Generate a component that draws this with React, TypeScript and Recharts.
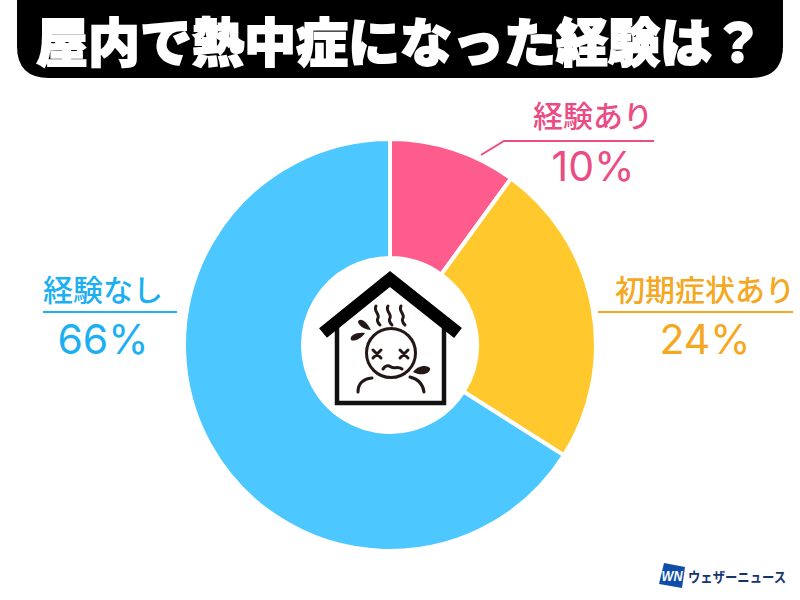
import React from "react";
import { PieChart, Pie, Cell } from "recharts";

const categories = ["経験あり", "初期症状あり", "経験なし"];
const values = [10, 24, 66];
const sliceColors = ["#ff5c8e", "#ffc92e", "#4cc7ff"];
const textColors = ["#ea4c83", "#f5a81f", "#1cb0f2"];
const title = "屋内で熱中症になった経験は？";
const brand = "ウェザーニュース";

const pieData = categories.map((name, i) => ({ name, value: values[i] }));
const jp = "'Noto Sans CJK JP', sans-serif";
const latin = "Inter, 'Noto Sans CJK JP', sans-serif";

const labelLayout = [
  { x: 593, nameY: 127, pctY: 181, line: "M481 155 L504 141 L654 141" },
  { x: 705, nameY: 301, pctY: 354, line: "M598 312 L793 312" },
  { x: 103, nameY: 301, pctY: 354, line: "M43 312 L177 312" },
];

function Icon() {
  const thin = { fill: "none", stroke: "#231815", strokeWidth: 3, strokeLinecap: "round" as const };
  return (
    <g>
      <path d="M337 322 L337 403 L444 403 L444 322" fill="#fff" stroke="#111" strokeWidth={4.5} />
      <path d="M323 333 L390 279 L458 333" fill="none" stroke="#000" strokeWidth={12.5} />
      <circle cx={391} cy={353} r={24.5} fill="none" stroke="#231815" strokeWidth={3} />
      <path d="M376 306 C373 311 380 314 378 318 C376 321 378 323 380 325" {...thin} />
      <path d="M388 306 C385 311 392 314 390 318 C388 321 390 323 392 325" {...thin} />
      <path d="M401 306 C398 311 405 314 403 318 C401 321 403 323 405 325" {...thin} />
      <path d="M371 330 C367 330 359 327 358 322 C359 318 365 319 371 330 Z" fill="#231815" />
      <path d="M365 333 C361 339 354 342 351 340 C349 336 356 332 365 333 Z" fill="#231815" />
      <path d="M413 372 C417 366 426 364 430 368 C431 373 422 377 413 372 Z" fill="#231815" />
      <path d="M373 350 L381 358 M381 350 L373 358 M400 350 L408 358 M408 350 L400 358" {...thin} />
      <path d="M383 369 C386 365 388 365 391 367 C394 369 398 366 402 369" {...thin} />
      <path d="M358 392 C358 384 363 379 372 378" {...thin} />
      <path d="M424 392 C423 384 418 379 410 377" {...thin} />
    </g>
  );
}

export default function App() {
  return (
    <div style={{ position: "absolute", left: 0, top: 0, width: 800, height: 600 }}>
      <PieChart width={800} height={600} margin={{ top: 0, right: 0, bottom: 0, left: 0 }}>
        <rect x={0} y={0} width={800} height={600} fill="#fff" />
        <path d="M17 0 L783 0 L783 46 Q783 78 751 78 L49 78 Q17 78 17 46 Z" fill="#000" />
        <text x={36} y={62} fontFamily={jp} fontWeight={900} fontSize={52}
          fill="#fff" stroke="#fff" strokeWidth={1.8} textLength={728} lengthAdjust="spacingAndGlyphs">
          {title}
        </text>
        <Pie data={pieData} dataKey="value" nameKey="name" cx={390} cy={345} outerRadius={206} innerRadius={87}
          startAngle={90} endAngle={-270} stroke="#fff" strokeWidth={4} isAnimationActive={false}>
          {pieData.map((d, i) => (
            <Cell key={d.name} fill={sliceColors[i]} />
          ))}
        </Pie>
        {pieData.map((d, i) => {
          const l = labelLayout[i];
          return (
            <g key={d.name}>
              <path d={l.line} fill="none" stroke={textColors[i]} strokeWidth={2} />
              <text x={l.x} y={l.nameY} textAnchor="middle" fontFamily={jp} fontWeight={500} fontSize={30}
                fill={textColors[i]}>{d.name}</text>
              <text x={l.x} y={l.pctY} textAnchor="middle" fontFamily={latin} fontWeight={400} fontSize={41}
                fill={textColors[i]}>{d.value}%</text>
            </g>
          );
        })}
        <Icon />
        <path d="M664 563 L685 567 L682 588 L659 584 Z" fill="#0f4da8" />
        <text x={672} y={581} textAnchor="middle" fontFamily="'Liberation Sans', sans-serif" fontStyle="italic"
          fontWeight={700} fontSize={14} fill="#fff" textLength={21} lengthAdjust="spacingAndGlyphs">WN</text>
        <text x={688} y={582} fontFamily={jp} fontWeight={700} fontSize={14} fill="#17336e"
          textLength={98} lengthAdjust="spacingAndGlyphs">{brand}</text>
      </PieChart>
    </div>
  );
}
